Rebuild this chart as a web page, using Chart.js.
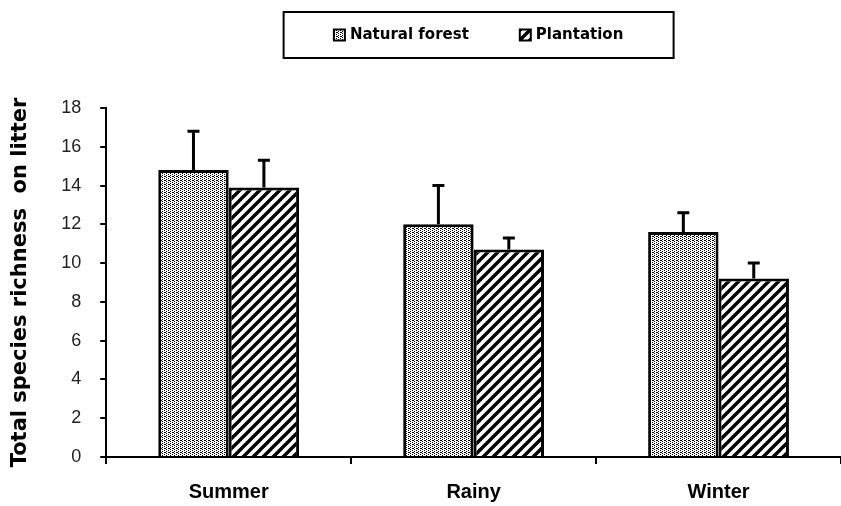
<!DOCTYPE html>
<html>
<head>
<meta charset="utf-8">
<script src="https://cdn.jsdelivr.net/npm/chart.js@4.4.1/dist/chart.umd.min.js"></script>
<style>
  html, body { margin: 0; padding: 0; background: #fff; }
</style>
</head>
<body>
<canvas id="chart" width="841" height="506"></canvas>
<script>
const seasons = ['Summer', 'Rainy', 'Winter'];
const naturalForest = [14.8, 12.0, 11.6];
const naturalForestErr = [2.0, 2.0, 1.0];
const plantation = [13.9, 10.7, 9.2];
const plantationErr = [1.4, 0.6, 0.8];
const yMin = 0;
const yMax = 18;
const yStep = 2;

const ARIAL = "'Liberation Sans', Arial, sans-serif";
const WIDE = "'DejaVu Sans', Verdana, sans-serif";

// stippled fill for natural forest
function dotPattern() {
  const c = document.createElement('canvas');
  c.width = 4; c.height = 4;
  const g = c.getContext('2d');
  g.fillStyle = '#fff';
  g.fillRect(0, 0, 4, 4);
  g.fillStyle = '#000';
  g.fillRect(0, 0, 1, 1);
  g.fillRect(0, 2, 1, 1);
  g.fillRect(2, 1, 1, 1);
  g.fillRect(2, 3, 1, 1);
  g.fillRect(1, 0, 1, 1);
  return g.createPattern(c, 'repeat');
}

// thick diagonal hatch for plantation
function hatchPattern() {
  const s = 10;
  const c = document.createElement('canvas');
  c.width = s; c.height = s;
  const g = c.getContext('2d');
  g.fillStyle = '#fff';
  g.fillRect(0, 0, s, s);
  g.strokeStyle = '#000';
  g.lineWidth = 3.4;
  g.beginPath();
  g.moveTo(-s, s); g.lineTo(s, -s);
  g.moveTo(0, s); g.lineTo(s, 0);
  g.moveTo(0, 2 * s); g.lineTo(2 * s, 0);
  g.stroke();
  return g.createPattern(c, 'repeat');
}

const errorBars = {
  id: 'errorBars',
  afterDatasetsDraw(chart) {
    const ctx = chart.ctx;
    const y = chart.scales.y;
    ctx.save();
    ctx.strokeStyle = '#000';
    ctx.lineWidth = 3;
    chart.data.datasets.forEach((ds, i) => {
      const meta = chart.getDatasetMeta(i);
      meta.data.forEach((bar, j) => {
        const top = y.getPixelForValue(ds.data[j] + ds.errors[j]);
        ctx.beginPath();
        ctx.moveTo(bar.x, bar.y);
        ctx.lineTo(bar.x, top);
        ctx.moveTo(bar.x - 6, top);
        ctx.lineTo(bar.x + 6, top);
        ctx.stroke();
      });
    });
    ctx.restore();
  }
};

const boxedLegend = {
  id: 'boxedLegend',
  afterDraw(chart) {
    const ctx = chart.ctx;
    const area = chart.chartArea;
    const cx = (area.left + area.right) / 2 + 5;
    const frameW = 390, frameTop = 12, frameH = 46;
    ctx.save();
    ctx.lineWidth = 2;
    ctx.strokeStyle = '#000';
    ctx.strokeRect(cx - frameW / 2, frameTop, frameW, frameH);
    ctx.font = 'bold 15px ' + WIDE;
    ctx.textBaseline = 'middle';
    const box = 11, gap = 5, itemGap = 51;
    const items = chart.data.datasets.map(ds => ({
      label: ds.label, fill: ds.backgroundColor, w: box + gap + ctx.measureText(ds.label).width
    }));
    const total = items.reduce((a, it) => a + it.w, 0) + itemGap * (items.length - 1);
    let x = cx - total / 2;
    const yMid = frameTop + frameH / 2;
    items.forEach(it => {
      ctx.fillStyle = it.fill;
      ctx.fillRect(x, yMid - box / 2, box, box);
      ctx.lineWidth = 2;
      ctx.strokeRect(x, yMid - box / 2, box, box);
      ctx.fillStyle = '#000';
      ctx.fillText(it.label, x + box + gap, yMid);
      x += it.w + itemGap;
    });
    ctx.restore();
  }
};

new Chart(document.getElementById('chart'), {
  type: 'bar',
  data: {
    labels: seasons,
    datasets: [
      {
        label: 'Natural forest',
        data: naturalForest,
        errors: naturalForestErr,
        backgroundColor: dotPattern(),
        borderColor: '#000',
        borderWidth: 3
      },
      {
        label: 'Plantation',
        data: plantation,
        errors: plantationErr,
        backgroundColor: hatchPattern(),
        borderColor: '#000',
        borderWidth: 3
      }
    ]
  },
  options: {
    responsive: false,
    animation: false,
    devicePixelRatio: 1,
    categoryPercentage: 0.575,
    barPercentage: 1,
    layout: { padding: { top: 108, left: 5, right: 0, bottom: -14 } },
    plugins: {
      legend: { display: false },
      tooltip: { enabled: false }
    },
    scales: {
      x: {
        grid: { drawOnChartArea: false, drawTicks: true, tickLength: 7, color: '#000', lineWidth: 2, offset: true },
        border: { color: '#000', width: 2 },
        ticks: { color: '#000', font: { family: ARIAL, size: 20, weight: 'bold' }, padding: 16 }
      },
      y: {
        min: yMin,
        max: yMax,
        grid: { drawOnChartArea: false, drawTicks: true, tickLength: 6, color: '#000', lineWidth: 2 },
        border: { color: '#000', width: 2 },
        ticks: { stepSize: yStep, color: '#222', font: { family: ARIAL, size: 18 }, padding: 19 },
        title: {
          display: true,
          text: 'Total species richness  on litter',
          color: '#000',
          font: { family: WIDE, size: 21, weight: 'bold' },
          padding: { top: 3, bottom: 9 }
        }
      }
    }
  },
  plugins: [errorBars, boxedLegend]
});
</script>
</body>
</html>
